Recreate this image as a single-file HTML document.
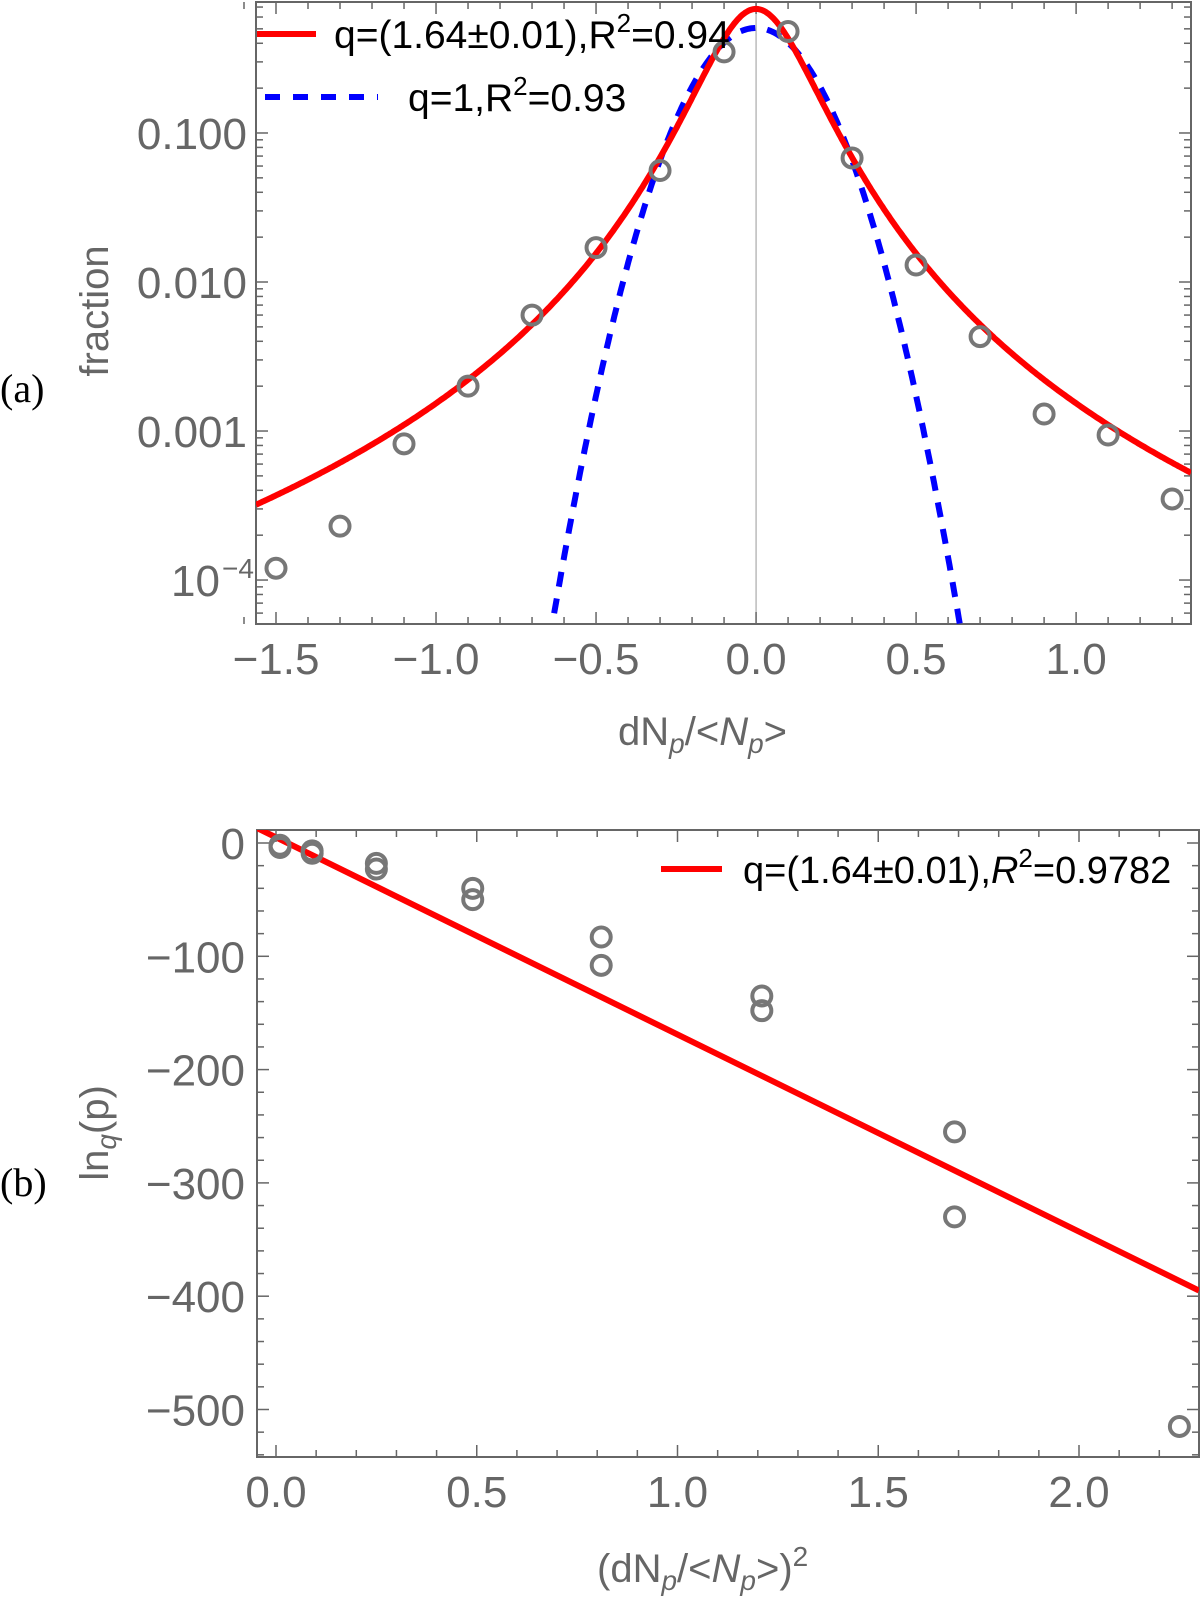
<!DOCTYPE html>
<html><head><meta charset="utf-8">
<style>
html,body{margin:0;padding:0;background:#fff;}
svg{display:block;}
text{font-family:"Liberation Sans",sans-serif;}
</style></head>
<body>
<svg id="fig" width="1200" height="1600" viewBox="0 0 1200 1600" xmlns="http://www.w3.org/2000/svg">
<text x="0" y="402" font-size="40" style="font-family:'Liberation Serif',serif" fill="#000">(a)</text>
<text x="0" y="1196" font-size="40" style="font-family:'Liberation Serif',serif" fill="#000">(b)</text>
<g id="pa"></g>
<g id="pb"></g>
</svg>
<script>
// ===== Panel (a) data =====
const aX = [-1.5,-1.3,-1.1,-0.9,-0.7,-0.5,-0.3,-0.1,0.1,0.3,0.5,0.7,0.9,1.1,1.3];
const aY = [1.2e-4,2.3e-4,8.2e-4,2.0e-3,6.0e-3,0.017,0.056,0.35,0.48,0.068,0.013,4.3e-3,1.3e-3,9.4e-4,3.5e-4];
const aXTicks = [-1.5,-1.0,-0.5,0.0,0.5,1.0];
const aXTickLabels = ["\u22121.5","\u22121.0","\u22120.5","0.0","0.5","1.0"];
const aYTicks = [-4,-3,-2,-1];
const aYTickLabels = ["10","0.001","0.010","0.100"];
const qFit = [0.68, 1.557, 28.8];   // amplitude, q, k
const gFit = [0.507, 0.044];        // amplitude, 2*sigma^2
// ===== Panel (b) data =====
const bX = [0.01,0.01,0.09,0.09,0.25,0.25,0.49,0.49,0.81,0.81,1.21,1.21,1.69,1.69,2.25];
const bY = [-2,-4,-7,-9,-18,-23,-40,-50,-83,-108,-135,-148,-255,-330,-515];
const bXTicks = [0,0.5,1.0,1.5,2.0];
const bXTickLabels = ["0.0","0.5","1.0","1.5","2.0"];
const bYTicks = [0,-100,-200,-300,-400,-500];
const bYTickLabels = ["0","\u2212100","\u2212200","\u2212300","\u2212400","\u2212500"];
const bFit = [5, -174]; // intercept, slope

const NS="http://www.w3.org/2000/svg";
function mk(parent,tag,attrs){const e=document.createElementNS(NS,tag);for(const k in attrs)e.setAttribute(k,attrs[k]);parent.appendChild(e);return e;}
const GRAY="#666";

// ---------- Panel A ----------
(function(){
const g=document.getElementById('pa');
const L=256,R=1191,T=2,B=624;
const xmin=-1.5625,xmax=1.359,lmin=-4.295,lmax=-0.121;
const sx=x=>L+(x-xmin)/(xmax-xmin)*(R-L);
const sy=v=>B-(Math.log10(v)-lmin)/(lmax-lmin)*(B-T);
const syl=l=>B-(l-lmin)/(lmax-lmin)*(B-T);
const clip=mk(g,'clipPath',{id:'ca'});mk(clip,'rect',{x:L,y:T,width:R-L,height:B-T});
let z=mk(g,'line',{x1:sx(0),x2:sx(0),y1:T,y2:B,stroke:'#aaa','stroke-width':1.2});

let f=mk(g,'rect',{x:L,y:T,width:R-L,height:B-T,fill:'none',stroke:GRAY,'stroke-width':2});

for(let i=-16;i<=13;i++){const x=i/10;const X=sx(x);const maj=(i%5===0);const len=maj?12:7;
 mk(g,'line',{x1:X,x2:X,y1:B,y2:B-len,stroke:GRAY,'stroke-width':1.5});
 mk(g,'line',{x1:X,x2:X,y1:T,y2:T+len,stroke:GRAY,'stroke-width':1.5});}
aXTicks.forEach((t,i)=>{const e=mk(g,'text',{x:sx(t),y:674,'text-anchor':'middle','font-size':44,fill:GRAY});e.textContent=aXTickLabels[i];
 });
for(let d=-5;d<=-1;d++){for(let m=1;m<=9;m++){const l=d+Math.log10(m);if(l<lmin||l>lmax)continue;const Y=syl(l);const len=m===1?12:7;
 mk(g,'line',{x1:L,x2:L+len,y1:Y,y2:Y,stroke:GRAY,'stroke-width':1.5});
 mk(g,'line',{x1:R,x2:R-len,y1:Y,y2:Y,stroke:GRAY,'stroke-width':1.5});}}
aYTicks.forEach((t,i)=>{const Y=syl(t);
 const e=mk(g,'text',{x:i===0?220:247,y:Y+16,'text-anchor':'end','font-size':44,fill:GRAY});e.textContent=aYTickLabels[i];
 
 if(i===0){const s=mk(g,'text',{x:222,y:Y-2,'font-size':28,fill:GRAY});s.textContent='\u22124';}});
let yt=mk(g,'text',{x:0,y:0,transform:'translate(108,311) rotate(-90)','text-anchor':'middle','font-size':40,fill:GRAY});yt.textContent='fraction';

let xt=mk(g,'text',{x:618,y:745,'font-size':40,fill:GRAY});
xt.innerHTML='dN<tspan font-size="28" font-style="italic" dy="8">p</tspan><tspan dy="-8">/&lt;</tspan><tspan font-style="italic">N</tspan><tspan font-size="28" font-style="italic" dy="8">p</tspan><tspan dy="-8">&gt;</tspan>';

const cg=mk(g,'g',{'clip-path':'url(#ca)'});
let pq='',pg='';
for(let i=0;i<=600;i++){const x=xmin+(xmax-xmin)*i/600;
 const vq=qFit[0]*Math.pow(1+qFit[2]*x*x,-1/(qFit[1]-1));
 const vg=gFit[0]*Math.exp(-x*x/gFit[1]);
 pq+=(i?'L':'M')+sx(x).toFixed(1)+','+sy(vq).toFixed(1);
 const Yg=Math.min(sy(vg),B+20);pg+=(i?'L':'M')+sx(x).toFixed(1)+','+Yg.toFixed(1);}
let bl=mk(cg,'path',{d:pg,fill:'none',stroke:'#0000ff','stroke-width':6,'stroke-dasharray':'15,12'});

let rl=mk(cg,'path',{d:pq,fill:'none',stroke:'#ff0000','stroke-width':6});

aX.forEach((x,i)=>{const c=mk(g,'circle',{cx:sx(x),cy:sy(aY[i]),r:9.5,fill:'none',stroke:'#777','stroke-width':4});
 });
let lg=mk(g,'g',{});
mk(lg,'line',{x1:257,x2:316,y1:34,y2:34,stroke:'#ff0000','stroke-width':6});
let t1=mk(lg,'text',{x:334,y:48,'font-size':39,fill:'#000'});t1.innerHTML='q=(1.64\u00b10.01),R<tspan font-size="26" dy="-16">2</tspan><tspan dy="16">=0.94</tspan>';

mk(lg,'line',{x1:265,x2:378,y1:97,y2:97,stroke:'#0000ff','stroke-width':6,'stroke-dasharray':'15,13'});
let t2=mk(lg,'text',{x:408,y:111,'font-size':39,fill:'#000'});t2.innerHTML='q=1,R<tspan font-size="26" dy="-16">2</tspan><tspan dy="16">=0.93</tspan>';

})();

// ---------- Panel B ----------
(function(){
const g=document.getElementById('pb');
const L=257,R=1199,T=830,B=1457;
const X0=276,XS=401.5,Y0=843,YS=1.133;
const sx=x=>X0+x*XS;
const sy=y=>Y0-y*YS;
const xmin=(L-X0)/XS,xmax=(R-X0)/XS;
const clip=mk(g,'clipPath',{id:'cb'});mk(clip,'rect',{x:L,y:T,width:R-L,height:B-T});
let f=mk(g,'rect',{x:L,y:T,width:R-L,height:B-T,fill:'none',stroke:GRAY,'stroke-width':2});

for(let i=0;i<=22;i++){const X=sx(i/10);const len=(i%5===0)?12:7;
 mk(g,'line',{x1:X,x2:X,y1:B,y2:B-len,stroke:GRAY,'stroke-width':1.5});
 mk(g,'line',{x1:X,x2:X,y1:T,y2:T+len,stroke:GRAY,'stroke-width':1.5});}
bXTicks.forEach((t,i)=>{const e=mk(g,'text',{x:sx(t),y:1507,'text-anchor':'middle','font-size':44,fill:GRAY});e.textContent=bXTickLabels[i];
 });
for(let v=0;v>=-540;v-=20){const Y=sy(v);const len=(v%100===0)?12:7;
 mk(g,'line',{x1:L,x2:L+len,y1:Y,y2:Y,stroke:GRAY,'stroke-width':1.5});
 mk(g,'line',{x1:R,x2:R-len,y1:Y,y2:Y,stroke:GRAY,'stroke-width':1.5});}
bYTicks.forEach((t,i)=>{const e=mk(g,'text',{x:245,y:sy(t)+16,'text-anchor':'end','font-size':44,fill:GRAY});e.textContent=bYTickLabels[i];
 });
let yt=mk(g,'text',{x:0,y:0,transform:'translate(108,1133) rotate(-90)','text-anchor':'middle','font-size':40,fill:GRAY});
yt.innerHTML='ln<tspan font-size="28" font-style="italic" dy="8">q</tspan><tspan dy="-8">(p)</tspan>';

let xt=mk(g,'text',{x:597,y:1582,'font-size':40,fill:GRAY});
xt.innerHTML='(dN<tspan font-size="28" font-style="italic" dy="8">p</tspan><tspan dy="-8">/&lt;</tspan><tspan font-style="italic">N</tspan><tspan font-size="28" font-style="italic" dy="8">p</tspan><tspan dy="-8">&gt;)</tspan><tspan font-size="28" dy="-16">2</tspan>';

const cg=mk(g,'g',{'clip-path':'url(#cb)'});
let rl=mk(cg,'line',{x1:sx(xmin),y1:sy(bFit[0]+bFit[1]*xmin),x2:sx(xmax),y2:sy(bFit[0]+bFit[1]*xmax),stroke:'#ff0000','stroke-width':6});

bX.forEach((x,i)=>{const c=mk(g,'circle',{cx:sx(x),cy:sy(bY[i]),r:9.5,fill:'none',stroke:'#777','stroke-width':4});
 });
let lg=mk(g,'g',{});
mk(lg,'line',{x1:661,x2:722,y1:869,y2:869,stroke:'#ff0000','stroke-width':6});
let t1=mk(lg,'text',{x:743,y:883,'font-size':38,fill:'#000'});
t1.innerHTML='q=(1.64\u00b10.01),<tspan font-style="italic">R</tspan><tspan font-size="26" dy="-16">2</tspan><tspan dy="16">=0.9782</tspan>';

})();
</script>
</body></html>
